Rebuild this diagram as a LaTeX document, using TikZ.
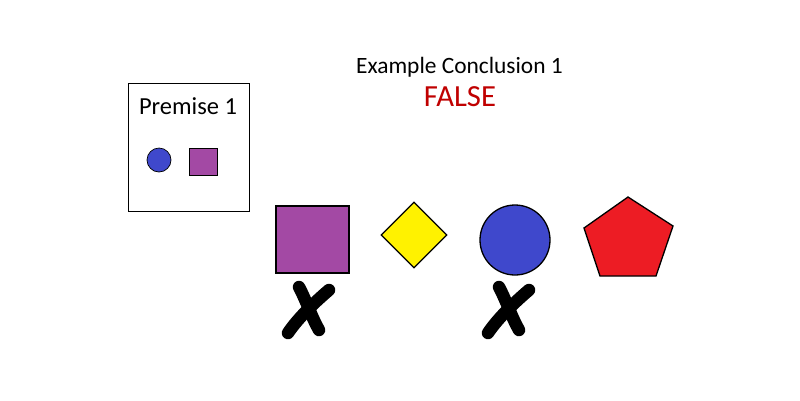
\documentclass[tikz,border=0pt]{standalone}
\usepackage{fontspec}
\setmainfont{Carlito}
\usetikzlibrary{shapes.geometric}
\definecolor{cpurple}{HTML}{A349A4}
\definecolor{cblue}{HTML}{3F48CC}
\definecolor{cyellow}{HTML}{FFF200}
\definecolor{cred}{HTML}{ED1C24}
\definecolor{cfalse}{HTML}{C00000}
\tikzset{
  shp/.style={draw=black, line width=1.3pt},
  xmark/.style={line width=12.5pt, line cap=round, black},
}
\begin{document}
\begin{tikzpicture}[x=1pt,y=-1pt]
\useasboundingbox (0,0) rectangle (800,400);
\fill[white] (0,0) rectangle (800,400);
% premise box
\node[draw=black, line width=0.8pt, minimum width=121pt, minimum height=128pt, inner sep=0pt] (box) at (188.5,147) {};
\node[font=\fontsize{24.5}{28}\selectfont] (ptext) at (188,106) {Premise 1};
\node[circle, draw=black, line width=0.7pt, fill=cblue, minimum size=24pt, inner sep=0pt] (pc) at (159,160) {};
\node[draw=black, line width=0.7pt, fill=cpurple, minimum width=28pt, minimum height=27pt, inner sep=0pt] (ps) at (203,161.5) {};
% conclusion
\node[font=\fontsize{23.4}{27}\selectfont] (concl) at (459.5,67) {Example Conclusion 1};
\node[font=\fontsize{30.7}{34}\selectfont, text=cfalse] (false) at (460,97) {FALSE};
% shapes
\node[shp, fill=cpurple, minimum width=73pt, minimum height=67pt, inner sep=0pt] (sq) at (312.5,239.5) {};
\node[shp, fill=cyellow, diamond, minimum width=66pt, minimum height=66pt, inner sep=0pt] (dm) at (414,235) {};
\node[shp, fill=cblue, circle, minimum size=70pt, inner sep=0pt] (ci) at (515,240) {};
\draw[shp, fill=cred, line join=miter] (628,197) -- (673,226) -- (656,276) -- (600,276) -- (584,228) -- cycle;
\coordinate (pent) at (628,240);
% X marks
\coordinate (a1) at (299,287);
\coordinate (a2) at (319,330);
\coordinate (b1) at (329,290);
\coordinate (b2) at (288,333);
\draw[xmark] (a1) .. controls (306,300) and (312,318) .. (a2);
\draw[xmark] (b1) .. controls (315,302) and (298,318) .. (b2);
\coordinate (c1) at (499,287);
\coordinate (c2) at (519,330);
\coordinate (d1) at (529,290);
\coordinate (d2) at (488,333);
\draw[xmark] (c1) .. controls (506,300) and (512,318) .. (c2);
\draw[xmark] (d1) .. controls (515,302) and (498,318) .. (d2);
\end{tikzpicture}
\end{document}
